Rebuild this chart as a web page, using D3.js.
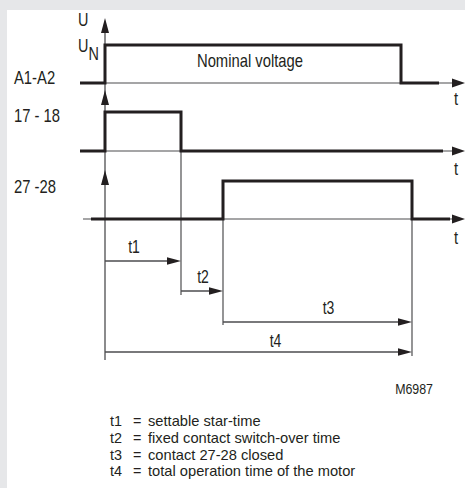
<!DOCTYPE html>
<html>
<head>
<meta charset="utf-8">
<script src="https://cdn.jsdelivr.net/npm/d3@7"></script>
<style>
  body { margin: 0; background: #fff; }
  svg text { font-family: "Liberation Sans", Arial, sans-serif; fill: #231f20; }
</style>
</head>
<body>
<svg id="chart" width="465" height="488"></svg>
<script>
// signal rows (time units, 0 = switch on)
var rowLabels = ["A1-A2", "17 - 18", "27 -28"];
var riseTimes = [0, 0, 118];
var fallTimes = [296, 76, 307];
var lowEnds = [334, 338, 345];   // where the thick low level stops

// time spans t1..t4 : [from, to]
var spanNames = ["t1", "t2", "t3", "t4"];
var spanFrom = [0, 76, 118, 0];
var spanTo = [76, 118, 307, 307];

var legendLines = [
  "settable star-time",
  "fixed contact switch-over time",
  "contact 27-28 closed",
  "total operation time of the motor"
];

var svg = d3.select("#chart");
var ink = "#231f20", thin = "#4d4d4f";
var narrow = 0.8; // fake a condensed face

var x = d3.scaleLinear().domain([0, 307]).range([105, 412]);

// row geometry
var baseY = [83, 151, 219];
var highY = [45, 112, 181];
var tipY = [18, 90, 170];
var spanY = [261, 291, 322, 352];

function label(tx, ty, str, size, anchor, sx) {
  return svg.append("text")
    .attr("transform", "translate(" + tx + "," + ty + ") scale(" + (sx || narrow) + ",1)")
    .attr("text-anchor", anchor || "start")
    .attr("font-size", size)
    .text(str);
}

// frame
svg.append("rect").attr("width", 465).attr("height", 488).attr("fill", "#e6e7e9");
svg.append("rect").attr("x", 7).attr("y", 10).attr("width", 458).attr("height", 478).attr("fill", "#fff");

// main vertical axis
svg.append("line").attr("x1", x(0)).attr("x2", x(0)).attr("y1", tipY[0] + 4).attr("y2", 360)
  .attr("stroke", thin).attr("stroke-width", 1.3);

function arrowUp(cx, ty) {
  svg.append("path").attr("d", "M" + cx + "," + ty + "L" + (cx - 4) + "," + (ty + 15) + "L" + (cx + 4) + "," + (ty + 15) + "Z")
    .attr("fill", ink);
}
function arrowRight(tx, cy, len, hw) {
  svg.append("path").attr("d", "M" + tx + "," + cy + "L" + (tx - len) + "," + (cy - hw) + "L" + (tx - len) + "," + (cy + hw) + "Z")
    .attr("fill", ink);
}

// helper lines (thin verticals at switching edges)
var guides = [[fallTimes[1], highY[1], 295], [riseTimes[2], highY[2], 325], [fallTimes[2], highY[2], 356]];
guides.forEach(function(g) {
  svg.append("line").attr("x1", x(g[0])).attr("x2", x(g[0])).attr("y1", g[1]).attr("y2", g[2])
    .attr("stroke", thin).attr("stroke-width", 1.2);
});

rowLabels.forEach(function(lab, i) {
  var by = baseY[i];
  var startX = i < 2 ? 80 : 83;
  // time axis
  svg.append("line").attr("x1", startX).attr("x2", 455).attr("y1", by).attr("y2", by)
    .attr("stroke", thin).attr("stroke-width", 1.2);
  arrowRight(465, by, 13, 4.5);
  arrowUp(x(0), tipY[i]);

  // signal
  var s0 = i < 2 ? 80 : 91;
  var pts = [[s0, by], [x(riseTimes[i]), by], [x(riseTimes[i]), highY[i]],
             [x(fallTimes[i]), highY[i]], [x(fallTimes[i]), by], [x(lowEnds[i]), by]];
  svg.append("path").attr("d", d3.line()(pts))
    .attr("fill", "none").attr("stroke", ink).attr("stroke-width", 3).attr("stroke-linejoin", "miter");

  label(14, by + (i == 0 ? 1 : i == 1 ? -29 : -26), lab, 18.5);
  label(456, by + 22 + i * 1.5, "t", 18.5, "middle");
});

label(250, 67, "Nominal voltage", 18.5, "middle");
label(78, 26, "U", 18);
var un = label(78, 52, "", 18);
un.append("tspan").text("U");
un.append("tspan").attr("dy", 8).text("N");

// time spans
var labelShift = [-9, 1, 11, 17];
spanNames.forEach(function(n, i) {
  var x0 = x(spanFrom[i]), x1 = x(spanTo[i]), y = spanY[i];
  svg.append("line").attr("x1", x0).attr("x2", x1 - 6).attr("y1", y).attr("y2", y)
    .attr("stroke", thin).attr("stroke-width", 1.3);
  arrowRight(x1, y, 14, 3.8);
  label((x0 + x1) / 2 + labelShift[i], y - (i == 3 ? 5 : 8), n, 17.5, "middle");
});

label(433, 394, "M6987", 15.5, "end");

// legend lines
legendLines.forEach(function(d, i) {
  var y = 426 + i * 16.8;
  label(110, y, spanNames[i], 14.4, "start", 1.0);
  label(133, y, "=", 14.4, "start", 1.0);
  label(148, y, d, 14.4, "start", 1.02);
});
</script>
</body>
</html>
